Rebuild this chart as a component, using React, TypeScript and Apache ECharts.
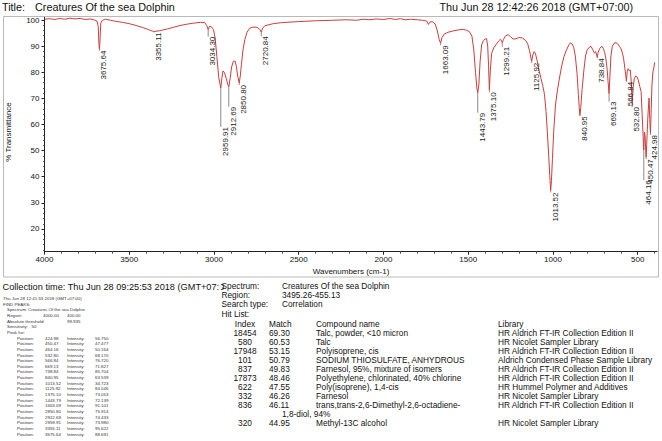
import React, { useEffect, useRef } from "react";
import * as echarts from "echarts";

const FONT = "'Liberation Sans', Arial, Helvetica, sans-serif";

// ---- texts ----
const titleLabel = "Title:";
const titleText = "Creatures Of the sea Dolphin";
const dateText = "Thu Jun 28 12:42:26 2018 (GMT+07:00)";
const collectionText = "Collection time: Thu Jun 28 09:25:53 2018 (GMT+07:0";
const xName = "Wavenumbers (cm-1)";
const yName = "% Transmittance";

// ---- axis ticks ----
const xTicks = [4000, 3500, 3000, 2500, 2000, 1500, 1000, 500];
const yTicks = [20, 30, 40, 50, 60, 70, 80, 90, 100];

// ---- spectrum (wavenumber, %T) ----
const specW = [
  4000, 3970, 3940, 3910, 3880, 3850, 3820, 3790, 3760, 3730, 3705, 3690, 3683, 3679, 3675.6, 3672, 3668, 3660, 3640,
  3610, 3580, 3540, 3500, 3460, 3420, 3385, 3355, 3320, 3280, 3240, 3200, 3160, 3120, 3080, 3055, 3042, 3034.3, 3026,
  3015, 3003, 2993, 2983, 2972, 2960, 2954, 2947, 2938, 2927, 2918, 2912.7, 2905, 2896, 2886, 2876, 2868, 2860, 2851,
  2845, 2838, 2829, 2818, 2805, 2790, 2770, 2745, 2730, 2721, 2713, 2700, 2650, 2600, 2500, 2400, 2300, 2220, 2160,
  2120, 2080, 2040, 2000, 1960, 1930, 1900, 1870, 1840, 1800, 1770, 1745, 1735, 1725, 1710, 1695, 1682, 1671, 1663,
  1655, 1642, 1620, 1590, 1560, 1530, 1510, 1493, 1478, 1467, 1457, 1449, 1443.8, 1437, 1430, 1421, 1410, 1400, 1392,
  1385, 1380, 1375.1, 1370, 1362, 1350, 1335, 1320, 1310, 1303, 1299.2, 1292, 1280, 1265, 1250, 1235, 1220, 1200, 1180,
  1160, 1148, 1138, 1132, 1125.9, 1119, 1111, 1104, 1094, 1084, 1070, 1060, 1050, 1041, 1033, 1025, 1019, 1013.5, 1009,
  1003, 995, 985, 975, 965, 950, 935, 920, 905, 897, 888, 878, 868, 858, 850, 845, 841, 836, 828, 818, 808, 798, 785,
  775, 765, 755, 748, 742, 738.8, 733, 725, 718, 710, 703, 695, 688, 680, 675, 669.1, 664, 658, 650, 640, 628, 618, 608,
  598, 590, 583, 576, 571, 566.8, 562, 556, 550, 544, 538, 532.8, 527, 520, 512, 505, 497, 488, 480, 474, 468, 464.2,
  460, 456, 452, 450.5, 447, 442, 438, 433, 429, 425, 421, 416, 410, 405, 400,
];
const specT = [
  100.3, 100.5, 100.2, 100.6, 100.3, 100.7, 100.4, 100.6, 100.2, 100.4, 100.0, 99.6, 97.5, 91, 88.7, 93, 98.8, 99.8, 100.3,
  99.9, 99.5, 99.1, 98.6, 97.9, 97.1, 96.3, 95.6, 95.9, 96.5, 97.2, 97.9, 98.4, 98.8, 99.1, 99.0, 97.8, 96.3, 97.6,
  97.4, 96.3, 93, 86, 78, 74.0, 77.5, 80.5, 79.8, 77.5, 75.2, 74.4, 77.5, 82, 84.2, 84.3, 82.3, 78.5, 75.9,
  78.5, 83, 88.5, 92.5, 95.3, 96.8, 97.3, 97.2, 96.4, 95.3, 96.9, 97.8, 98.6, 99.0, 99.4, 99.7, 99.9, 100.1, 99.9,
  100.3, 100.1, 100.4, 100.2, 100.6, 100.2, 100.5, 100.1, 100.3, 100.1, 99.9, 99.6, 98.3, 99.3, 99.3, 98.5, 95.8, 92.5, 91.1,
  93.2, 94.6, 95.3, 95.8, 96.2, 96.4, 96.1, 95.5, 93.8, 88.5, 80, 74, 72.1, 75.5, 84, 90.5, 92.2, 92.7, 92.9,
  90, 82.5, 73.1, 80.5, 87.2, 89.3, 90.6, 92, 92.6, 91.9, 91.3, 92.6, 93.9, 94.4, 93.6, 92.7, 92.8, 93.3, 93.1,
  92.1, 90.6, 88.2, 86.2, 84.1, 86.6, 87.9, 87.3, 84.6, 81.2, 77.4, 74.8, 71.5, 65, 57, 48, 40.5, 34.7, 38.5,
  47, 58, 67.5, 72.5, 76.5, 82, 86, 88.6, 90.6, 91.3, 90.9, 89.6, 86.2, 79.5, 71.5, 66.5, 63.5, 66.5, 73.5, 80.5, 86.2, 88.6, 89.6,
  89.9, 88.6, 87.3, 87.9, 86.6, 85.7, 87.6, 89, 89.6, 89.9, 89.1, 87.6, 85.2, 81, 76.5, 71.8, 78.3, 86.3, 89.9, 91.1, 91.3, 90.9, 89.9,
  88.9, 87.3, 85.1, 81.6, 79.1, 76.7, 80.2, 81.4, 80.6, 80.9, 76.2, 68.2, 74.1, 77.6, 78.6, 78.3, 77.1, 74.6, 72.6, 64.2, 55.3, 50.2,
  57.1, 55.2, 49.1, 47.5, 52.2, 60.3, 65.2, 70.1, 62.3, 56.8, 64.1, 75.2, 80.3, 81.6, 83.8,
];

// ---- peak list (as printed in the report) ----
const listPos = [
  424.98, 450.47, 464.16, 532.8, 566.84, 669.13, 738.84, 840.95, 1013.52, 1125.92, 1375.1, 1443.79, 1663.09, 2850.8,
  2912.69, 2959.91, 3355.11, 3675.64,
];
const listInt = [
  56.75, 47.477, 50.164, 68.17, 76.72, 71.827, 85.704, 63.539, 34.723, 84.046, 73.053, 72.139, 91.101, 75.914, 74.433,
  73.98, 95.622, 88.691,
];
// peaks labelled on the chart but not in the printed part of the list
const extraPos = [3034.3, 2720.84, 1299.21];
const extraInt = [96.3, 95.3, 91.3];

// ---- hit list ----
const hitIndex = ["18454", "580", "17948", "101", "837", "17873", "622", "332", "836", "", "320"];
const hitMatch = ["69.30", "60.53", "53.15", "50.79", "49.83", "48.46", "47.55", "46.26", "46.11", "", "44.95"];
const hitName = [
  "Talc, powder, <10 micron",
  "Talc",
  "Polyisoprene, cis",
  "SODIUM THIOSULFATE, ANHYDROUS",
  "Farnesol, 95%, mixture of isomers",
  "Polyethylene, chlorinated, 40% chlorine",
  "Poly(isoprene), 1,4-cis",
  "Farnesol",
  "trans,trans-2,6-Dimethyl-2,6-octadiene-",
  "",
  "Methyl-13C alcohol",
];
const hitWrap = ["", "", "", "", "", "", "", "", "", "1,8-diol, 94%", ""];
const hitLib = [
  "HR Aldrich FT-IR Collection Edition II",
  "HR Nicolet Sampler Library",
  "HR Aldrich FT-IR Collection Edition II",
  "Aldrich Condensed Phase Sample Library",
  "HR Aldrich FT-IR Collection Edition II",
  "HR Aldrich FT-IR Collection Edition II",
  "HR Hummel Polymer and Additives",
  "HR Nicolet Sampler Library",
  "HR Aldrich FT-IR Collection Edition II",
  "",
  "HR Nicolet Sampler Library",
];

// leader length (px) below each peak label (layout)
const leaderPx: Record<string, number> = {
  "3675.64": 1, "3355.11": 1, "3034.30": 7, "2959.91": 39, "2912.69": 20, "2850.80": 2, "2720.84": 4,
  "1663.09": 2, "1443.79": 20, "1375.10": 2, "1299.21": 4, "1125.92": 1, "1013.52": 2, "840.95": 1,
  "738.84": 1, "669.13": 8, "566.84": 1, "532.80": 4, "464.16": 30, "450.47": 2, "424.98": 2,
};

const Y_MIN = 11.3;
const Y_MAX = 101;
const X_MIN = 385;
const X_MAX = 4000;

function txt(x: number, y: number, text: string, size: number, extra: any = {}) {
  return {
    type: "text",
    x,
    y,
    silent: true,
    style: {
      text,
      fontSize: size,
      fontFamily: extra.family || FONT,
      fill: extra.fill || "#111",
      align: extra.align || "left",
      verticalAlign: "middle",
    },
    rotation: extra.rotation || 0,
    z: 10,
  };
}

export default function App() {
  const ref = useRef<HTMLDivElement>(null);

  useEffect(() => {
    document.body.style.margin = "0";
    if (!ref.current) return;
    const chart = echarts.init(ref.current, undefined, { renderer: "svg" });

    const yMinor: number[] = [];
    for (let v = 12; v <= 100; v += 2) if (v % 10 !== 0) yMinor.push(v);
    const xMinor: number[] = [];
    for (let v = 400; v <= 4000; v += 100) if (v % 500 !== 0) xMinor.push(v);

    const peaks = [
      ...listPos.map((p, i) => [p, listInt[i]]),
      ...extraPos.map((p, i) => [p, extraInt[i]]),
    ].map(([p, t]) => [p, t, leaderPx[p.toFixed(2)] ?? 2]);

    const graphics: any[] = [];
    // frame
    graphics.push({
      type: "rect",
      shape: { x: 3.5, y: 16.5, width: 655, height: 260.5 },
      style: { fill: "none", stroke: "#b9b9b9", lineWidth: 1 },
      silent: true,
      z: 0,
    });
    // header
    graphics.push(txt(2, 6.5, titleLabel, 10.8));
    graphics.push(txt(35, 6.5, titleText, 10.8));
    graphics.push(txt(633, 6.5, dateText, 10.8, { align: "right" }));
    // axis names
    graphics.push(txt(8, 132, yName, 8, { align: "center", rotation: Math.PI / 2 }));
    graphics.push(txt(351, 271.5, xName, 8, { align: "center" }));

    // collection time (clipped at the column edge)
    graphics.push(txt(2.5, 286.5, collectionText, 9.2));
    graphics.push({
      type: "rect",
      shape: { x: 219.3, y: 280, width: 1.6, height: 13 },
      style: { fill: "#ffffff" },
      silent: true,
      z: 11,
    });

    // small find-peaks block
    const sy0 = 298.5;
    const sstep = 5.65;
    const small = 4.4;
    const sfill = "#333";
    const so = { fill: sfill };
    graphics.push(txt(3, sy0, "Thu Jun 28 12:41:53 2018 (GMT+07:00)", small, so));
    graphics.push(txt(3, sy0 + sstep, "FIND PEAKS:", small, so));
    graphics.push(txt(7, sy0 + 2 * sstep, "Spectrum:", small, so));
    graphics.push(txt(28, sy0 + 2 * sstep, titleText, small, so));
    graphics.push(txt(7, sy0 + 3 * sstep, "Region:", small, so));
    graphics.push(txt(43, sy0 + 3 * sstep, "4000.00", small, so));
    graphics.push(txt(67, sy0 + 3 * sstep, "400.00", small, so));
    graphics.push(txt(7, sy0 + 4 * sstep, "Absolute threshold:", small, so));
    graphics.push(txt(67, sy0 + 4 * sstep, "99.935", small, so));
    graphics.push(txt(7, sy0 + 5 * sstep, "Sensitivity:", small, so));
    graphics.push(txt(31.5, sy0 + 5 * sstep, "50", small, so));
    graphics.push(txt(7, sy0 + 6 * sstep, "Peak list:", small, so));
    listPos.forEach((p, i) => {
      const y = sy0 + (7 + i) * sstep;
      graphics.push(txt(17, y, "Position:", small, so));
      graphics.push(txt(45, y, p.toFixed(2), small, so));
      graphics.push(txt(67, y, "Intensity:", small, so));
      graphics.push(txt(95, y, listInt[i].toFixed(3), small, so));
    });

    // search result block
    const rs = 8.3;
    graphics.push(txt(221.5, 286, "Spectrum:", rs));
    graphics.push(txt(282, 286, titleText, rs));
    graphics.push(txt(221.5, 295, "Region:", rs));
    graphics.push(txt(282, 295, "3495.26-455.13", rs));
    graphics.push(txt(221.5, 304, "Search type:", rs));
    graphics.push(txt(282, 304, "Correlation", rs));
    graphics.push(txt(221.5, 313.5, "Hit List:", rs));
    graphics.push(txt(245, 323.8, "Index", rs, { align: "center" }));
    graphics.push(txt(269, 323.8, "Match", rs));
    graphics.push(txt(316, 323.8, "Compound name", rs));
    graphics.push(txt(498, 323.8, "Library", rs));
    hitIndex.forEach((idx, i) => {
      const y = 333 + i * 9;
      if (idx) graphics.push(txt(245, y, idx, rs, { align: "center" }));
      if (hitMatch[i]) graphics.push(txt(269, y, hitMatch[i], rs));
      if (hitName[i]) graphics.push(txt(316, y, hitName[i], rs));
      if (hitWrap[i]) graphics.push(txt(282, y, hitWrap[i], rs));
      if (hitLib[i]) graphics.push(txt(498, y, hitLib[i], rs));
    });

    const axisColor = "#222";

    chart.setOption({
      animation: false,
      backgroundColor: "#ffffff",
      grid: { left: 44.5, right: 4.8, top: 17.4, bottom: 441 - 251.7, containLabel: false },
      xAxis: [
        {
          type: "value",
          inverse: true,
          min: X_MIN,
          max: X_MAX,
          axisLine: { show: true, onZero: false, lineStyle: { color: axisColor, width: 1 } },
          axisTick: { show: true, length: 3, customValues: xTicks, lineStyle: { color: axisColor } },
          axisLabel: {
            customValues: xTicks,
            fontSize: 8,
            fontFamily: FONT,
            color: "#111",
            margin: 4,
            formatter: (v: number) => String(v),
          },
          splitLine: { show: false },
        },
        {
          type: "value",
          inverse: true,
          min: X_MIN,
          max: X_MAX,
          position: "bottom",
          axisLine: { show: false },
          axisTick: { show: true, length: 2, customValues: xMinor, lineStyle: { color: "#555" } },
          axisLabel: { show: false },
          splitLine: { show: false },
        },
      ],
      yAxis: [
        {
          type: "value",
          min: Y_MIN,
          max: Y_MAX,
          axisLine: { show: true, onZero: false, lineStyle: { color: axisColor, width: 1 } },
          axisTick: { show: true, length: 3, customValues: yTicks, lineStyle: { color: axisColor } },
          axisLabel: {
            customValues: yTicks,
            fontSize: 8,
            fontFamily: FONT,
            color: "#111",
            margin: 5,
            formatter: (v: number) => String(v),
          },
          splitLine: { show: false },
        },
        {
          type: "value",
          min: Y_MIN,
          max: Y_MAX,
          position: "left",
          axisLine: { show: false },
          axisTick: { show: true, length: 1.5, customValues: yMinor, lineStyle: { color: "#555" } },
          axisLabel: { show: false },
          splitLine: { show: false },
        },
      ],
      series: [
        {
          type: "line",
          data: specW.map((w, i) => [w, specT[i]]),
          showSymbol: false,
          symbol: "none",
          lineStyle: { color: "#cc3d3d", width: 1 },
          silent: true,
          z: 3,
        },
        {
          type: "custom",
          data: peaks,
          silent: true,
          z: 4,
          renderItem: (_params: any, api: any) => {
            const w = api.value(0);
            const t = api.value(1);
            const lead = api.value(2);
            const p = api.coord([w, t]);
            return {
              type: "group",
              children: [
                {
                  type: "line",
                  shape: { x1: p[0], y1: p[1], x2: p[0], y2: p[1] + lead },
                  style: { stroke: "#8a8a8a", lineWidth: 1 },
                },
                {
                  type: "text",
                  x: p[0] + 4.5,
                  y: p[1] + lead,
                  rotation: Math.PI / 2,
                  style: {
                    text: Number(w).toFixed(2),
                    align: "right",
                    verticalAlign: "middle",
                    fontSize: 8,
                    fontFamily: FONT,
                    fill: "#222",
                  },
                },
              ],
            };
          },
        },
      ],
      graphic: graphics,
    });

    return () => chart.dispose();
  }, []);

  return <div ref={ref} style={{ width: 662, height: 441 }} />;
}
